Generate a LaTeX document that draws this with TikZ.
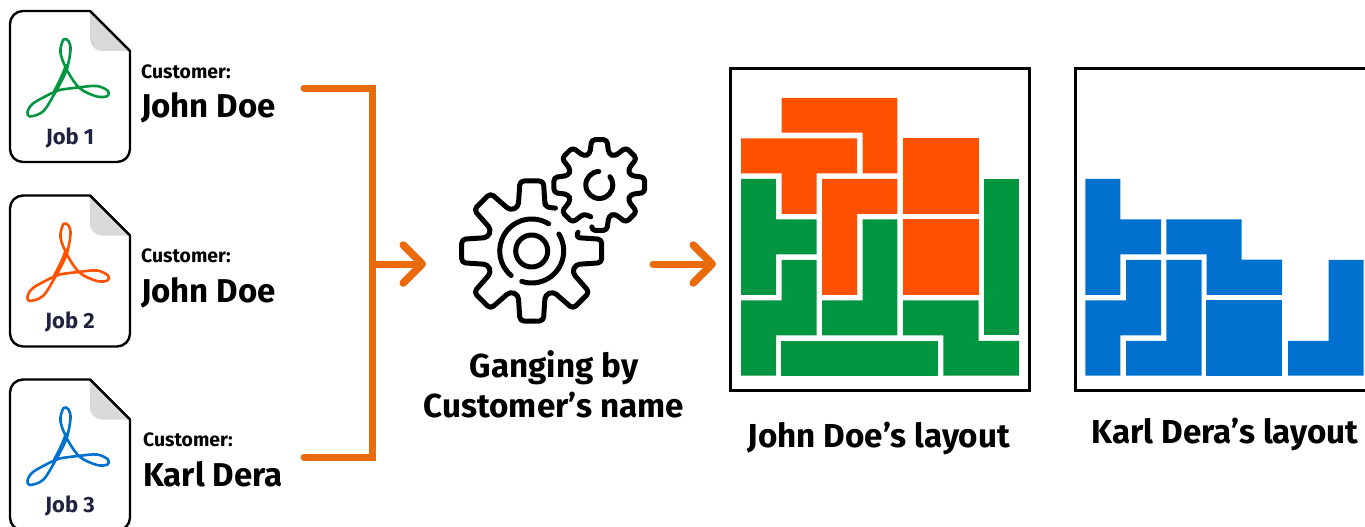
\documentclass[tikz,border=0pt]{standalone}
\usepackage{fontspec}
\setmainfont{Fira Sans}
\usetikzlibrary{arrows.meta}
\definecolor{cgreen}{HTML}{039640}
\definecolor{corange}{HTML}{FF5100}
\definecolor{cblue}{HTML}{0071CF}
\definecolor{carrow}{HTML}{EB6A0C}
\definecolor{cnavy}{HTML}{1F2340}
\definecolor{cfold}{HTML}{D9D9D9}
\tikzset{
  x=1pt,y=-1pt,
  filebox/.style={draw=black,line width=2.4pt,fill=white,line join=round},
  foldpart/.style={fill=cfold},
  flow/.style={draw=carrow,line width=7pt},
  flowtip/.style={flow,line cap=round,-{Straight Barb[length=19pt,width=38pt,line width=7.5pt,round]}},
  gearline/.style={draw=black,line width=5pt,line cap=round,line join=round},
  framebox/.style={draw=black,line width=3pt},
  caplabel/.style={font=\fontsize{19.4}{22}\bfseries\selectfont,inner sep=0pt,anchor=base west},
  namelabel/.style={font=\fontsize{33}{38}\bfseries\selectfont,inner sep=0pt,anchor=base west},
  joblabel/.style={font=\fontsize{22}{26}\bfseries\selectfont,text=cnavy,inner sep=0pt,anchor=base},
  biglabel/.style={font=\fontsize{33.2}{40}\bfseries\selectfont,inner sep=0pt,anchor=base,align=center},
}
% #1 y offset, #2 colour, #3 job text, #4 node name
\newcommand{\pdffile}[4]{%
  \begin{scope}[shift={(0,#1)}]
    \path[filebox] (90,11) -- (130,51) -- (130,149) arc[start angle=0,end angle=90,radius=13] -- (23,162)
       arc[start angle=90,end angle=180,radius=13] -- (10,24) arc[start angle=180,end angle=270,radius=13] -- cycle;
    \fill[foldpart] (90,12.5) -- (128.5,51) -- (102,51) arc[start angle=90,end angle=180,radius=12] -- cycle;
    \path[draw=black,line width=2.4pt,line join=round] (90,11) -- (130,51);
    \draw[#2,line width=2.6pt,line join=round] plot[smooth cycle,tension=0.55] coordinates {
      (59.5,90)(78,87.5)(97,86)(108,91)(107.5,96)(97,96.5)(80,88.5)(68,72)(60.5,53)(63.5,39.5)(68.5,41)(70.5,50)(66.5,70)(56.5,90)(43.5,111)(30,116.5)(27.5,112)(33,103.5)(51,93.5)};
    \draw[#2,line width=4pt,line cap=round] (55,91) .. controls (60,82) and (64,73) .. (66.5,66);
    \node[joblabel] (#4) at (70,144) {#3};
  \end{scope}}
\newcommand{\gearteeth}[1]{% centre angle list
  \foreach \a in {#1}{
    -- ({\a-17}:\rroot) -- ({\a-9.5}:\rtip) -- ({\a+9.5}:\rtip) -- ({\a+17}:\rroot)}}
\begin{document}
\begin{tikzpicture}
\useasboundingbox (0,0) rectangle (1365,527);
\clip (0,0) rectangle (1365,527);
\fill[white] (0,0) rectangle (1365,527);

\pdffile{0}{cgreen}{Job 1}{jobA}
\pdffile{184.5}{corange}{Job 2}{jobB}
\pdffile{368.5}{cblue}{Job 3}{jobC}

\node[caplabel] (capA) at (141,78) {Customer:};
\node[namelabel] (nameA) at (141,117) {John Doe};
\node[caplabel] (capB) at (141,262) {Customer:};
\node[namelabel] (nameB) at (141,302) {John Doe};
\node[caplabel] (capC) at (143,446) {Customer:};
\node[namelabel] (nameC) at (143,486) {Karl Dera};

% connectors
\coordinate (brTop) at (304,88);
\coordinate (brTopC) at (372,88);
\coordinate (brBotC) at (372,457);
\coordinate (brBot) at (304,457);
\coordinate (brMid) at (372,264);
\coordinate (gearIn) at (426,264);
\coordinate (gearOut) at (653,264);
\coordinate (frameIn) at (716,264);
\draw[flow,line cap=round,line join=miter] (brTop) -- (brTopC) -- (brBotC) -- (brBot);
\draw[flowtip,line cap=butt] (brMid) -- (gearIn);
\draw[flowtip] (gearOut) -- (frameIn);

% big gear
\begin{scope}[shift={(531.7,251)},y=1pt]
  \def\rroot{46}\def\rtip{71}
  \draw[gearline,rounded corners=4pt] (61:49) -- (73:46)
     \gearteeth{90,135,180,225,270,315,360} -- (382:50);
  \draw[gearline] (0,0) circle[radius=16];
  \draw[gearline] (58:32) arc[start angle=58,end angle=230,radius=32];
  \draw[gearline] (32:32) arc[start angle=32,end angle=-108,radius=32];
\end{scope}
% small gear
\begin{scope}[shift={(599.3,185)},y=1pt]
  \def\rroot{32.5}\def\rtip{46}
  \draw[gearline,rounded corners=3.5pt] (260:43) -- (260.5:46) -- (279.5:46) -- (287:32.5)
     \gearteeth{315,360,405,450,495,540,585} -- (615:33);
  \draw[gearline] (92:13.5) arc[start angle=92,end angle=398,radius=13.5];
\end{scope}

\node[biglabel] (gangA) at (554,377) {Ganging by};
\node[biglabel] (gangB) at (554,417) {Customer’s name};

% John Doe layout
\node[framebox,minimum width=299pt,minimum height=322pt,inner sep=0pt] (frameA) at (879.5,229.5) {};
\begin{scope}[shift={(720,60)},x=.33333pt,y=-.33333pt]
  \fill[corange] (185,114)--(532,114)--(532,340)--(428,340)--(428,218)--(185,218)--cycle;
  \fill[corange] (63,235)--(411,235)--(411,340)--(290,340)--(290,462)--(185,462)--(185,340)--(63,340)--cycle;
  \fill[corange] (549,234) rectangle (777,462);
  \fill[corange] (549,477) rectangle (777,705);
  \fill[corange] (306,357)--(532,357)--(532,462)--(411,462)--(411,705)--(306,705)--cycle;
  \fill[cgreen] (63,357)--(168,357)--(168,478)--(290,478)--(290,583)--(168,583)--(168,705)--(63,705)--cycle;
  \fill[cgreen] (185,600)--(290,600)--(290,826)--(168,826)--(168,947)--(63,947)--(63,721)--(185,721)--cycle;
  \fill[cgreen] (428,478)--(532,478)--(532,826)--(306,826)--(306,721)--(428,721)--cycle;
  \fill[cgreen] (549,721)--(776,721)--(776,843)--(897,843)--(897,947)--(670,947)--(670,826)--(549,826)--cycle;
  \fill[cgreen] (792,357) rectangle (897,826);
  \fill[cgreen] (183,843) rectangle (654,948);
\end{scope}
\node[biglabel] (layoutA) at (879,447) {John Doe’s layout};

% Karl Dera layout
\node[framebox,minimum width=320pt,minimum height=322pt,inner sep=0pt] (frameB) at (1235,229.5) {};
\begin{scope}[shift={(1065,60)},x=.33333pt,y=-.33333pt]
  \fill[cblue] (61,357)--(166,357)--(166,478)--(288,478)--(288,583)--(166,583)--(166,705)--(61,705)--cycle;
  \fill[cblue] (183,600)--(288,600)--(288,826)--(166,826)--(166,947)--(61,947)--(61,721)--(183,721)--cycle;
  \fill[cblue] (304,600)--(410,600)--(410,947)--(183,947)--(183,843)--(304,843)--cycle;
  \fill[cblue] (304,478)--(530,478)--(530,599)--(651,599)--(651,705)--(425,705)--(425,583)--(304,583)--cycle;
  \fill[cblue] (423,720) rectangle (651,948);
  \fill[cblue] (791,600)--(896,600)--(896,947)--(669,947)--(669,843)--(791,843)--cycle;
\end{scope}
\node[biglabel] (layoutB) at (1225,443) {Karl Dera’s layout};
\end{tikzpicture}
\end{document}
